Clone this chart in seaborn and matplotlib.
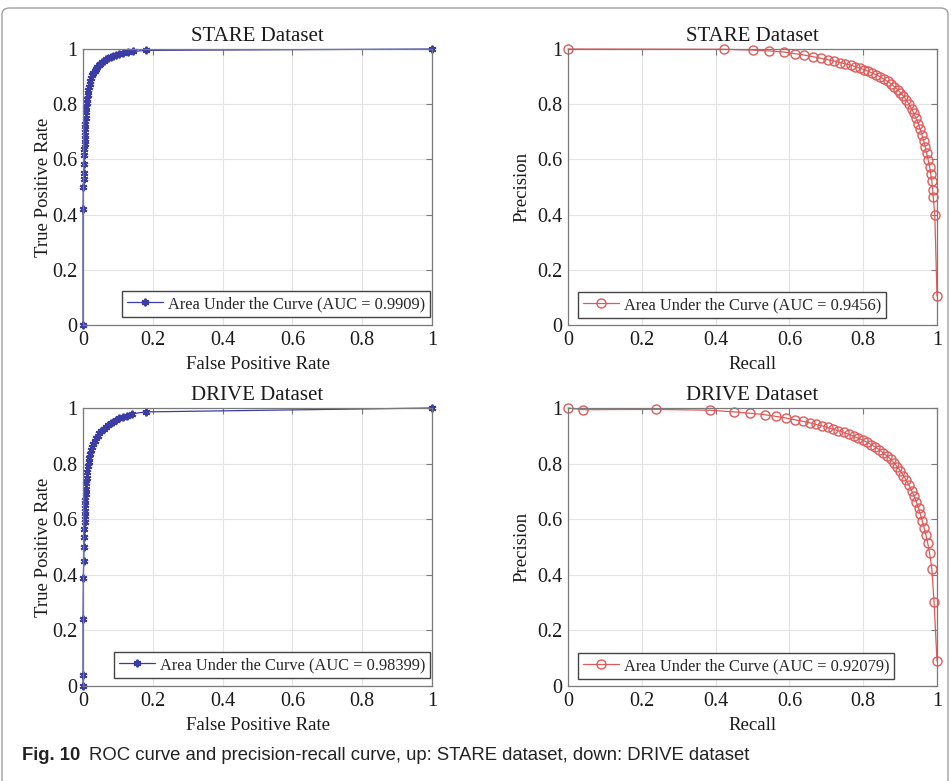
import matplotlib
matplotlib.use("Agg")
import matplotlib.pyplot as plt
import seaborn as sns
from matplotlib.patches import FancyBboxPatch

# values
stare_fpr = [0, 0, 0.001, 0.002, 0.002, 0.003, 0.004, 0.004, 0.005, 0.005, 0.006, 0.007, 0.007,
             0.008, 0.009, 0.010, 0.011, 0.012, 0.014, 0.015, 0.017, 0.019, 0.021, 0.024, 0.027,
             0.030, 0.033, 0.037, 0.041, 0.045, 0.050, 0.055, 0.060, 0.066, 0.072, 0.079, 0.086,
             0.094, 0.103, 0.115, 0.128, 0.143, 0.180, 1.0]
stare_tpr = [0, 0.42, 0.50, 0.53, 0.55, 0.585, 0.615, 0.636, 0.655, 0.673, 0.69, 0.71, 0.73,
             0.75, 0.77, 0.79, 0.805, 0.82, 0.835, 0.85, 0.862, 0.874, 0.885, 0.895, 0.904,
             0.912, 0.92, 0.928, 0.935, 0.941, 0.947, 0.953, 0.958, 0.963, 0.968, 0.972, 0.976,
             0.980, 0.983, 0.986, 0.989, 0.991, 0.995, 1.0]

drive_fpr = [0, 0, 0, 0.001, 0.002, 0.003, 0.003, 0.004, 0.005, 0.005, 0.006, 0.007, 0.007,
             0.008, 0.009, 0.010, 0.011, 0.012, 0.014, 0.016, 0.018, 0.020, 0.023, 0.026, 0.029,
             0.033, 0.037, 0.042, 0.047, 0.053, 0.059, 0.065, 0.072, 0.079, 0.087, 0.095, 0.104,
             0.114, 0.125, 0.140, 0.180, 1.0]
drive_tpr = [0, 0.04, 0.24, 0.39, 0.45, 0.50, 0.535, 0.565, 0.59, 0.61, 0.63, 0.65, 0.67,
             0.69, 0.71, 0.73, 0.75, 0.77, 0.79, 0.805, 0.82, 0.835, 0.848, 0.86, 0.871,
             0.882, 0.892, 0.901, 0.909, 0.917, 0.925, 0.932, 0.939, 0.945, 0.951, 0.957, 0.963,
             0.968, 0.973, 0.979, 0.986, 1.0]

stare_recall = [0, 0.423, 0.50, 0.545, 0.585, 0.615, 0.64, 0.664, 0.686, 0.705, 0.722, 0.738,
                0.752, 0.766, 0.779, 0.791, 0.803, 0.814, 0.825, 0.836, 0.846, 0.856, 0.866,
                0.875, 0.884, 0.893, 0.901, 0.909, 0.917, 0.924, 0.931, 0.937, 0.943, 0.949,
                0.954, 0.959, 0.964, 0.968, 0.972, 0.976, 0.980, 0.983, 0.986, 0.988, 0.990,
                0.994, 1.0]
stare_precision = [1.0, 0.999, 0.996, 0.993, 0.989, 0.983, 0.978, 0.972, 0.966, 0.961, 0.956,
                   0.951, 0.946, 0.941, 0.936, 0.931, 0.925, 0.919, 0.913, 0.906, 0.899, 0.891,
                   0.883, 0.874, 0.864, 0.853, 0.842, 0.829, 0.815, 0.80, 0.784, 0.767, 0.749,
                   0.73, 0.71, 0.689, 0.667, 0.645, 0.622, 0.598, 0.573, 0.548, 0.52, 0.49,
                   0.462, 0.40, 0.105]

drive_recall = [0, 0.041, 0.238, 0.384, 0.45, 0.494, 0.533, 0.563, 0.59, 0.614, 0.637, 0.655,
                0.672, 0.688, 0.704, 0.719, 0.733, 0.747, 0.761, 0.774, 0.787, 0.799, 0.811,
                0.822, 0.833, 0.844, 0.854, 0.864, 0.874, 0.883, 0.892, 0.901, 0.909, 0.917,
                0.924, 0.931, 0.938, 0.944, 0.950, 0.955, 0.960, 0.965, 0.970, 0.975, 0.980,
                0.986, 0.992, 1.0]
drive_precision = [1.0, 0.994, 0.995, 0.992, 0.986, 0.981, 0.976, 0.970, 0.964, 0.958, 0.952,
                   0.947, 0.941, 0.936, 0.930, 0.924, 0.918, 0.912, 0.905, 0.898, 0.891, 0.884,
                   0.876, 0.868, 0.859, 0.850, 0.839, 0.828, 0.816, 0.803, 0.789, 0.773, 0.757,
                   0.740, 0.722, 0.703, 0.683, 0.662, 0.640, 0.617, 0.594, 0.570, 0.543, 0.513,
                   0.477, 0.421, 0.303, 0.09]

stare_roc_auc = "0.9909"
stare_pr_auc = "0.9456"
drive_roc_auc = "0.98399"
drive_pr_auc = "0.92079"

tick_values = [0, 0.2, 0.4, 0.6, 0.8, 1]
tick_labels = ["0", "0.2", "0.4", "0.6", "0.8", "1"]

sns.set_style("white")
plt.rcParams["font.family"] = ["Liberation Serif", "DejaVu Serif"]

blue = "#3c3ca6"
red = "#e05a5a"
frame_grey = "#7a7a7a"
text_col = "#1a1a1a"

fig = plt.figure(figsize=(9.51, 7.81), dpi=100)
W, H = 951, 781


def make_ax(x0, y_top, x1, y_bot):
    return fig.add_axes([x0 / W, (H - y_bot) / H, (x1 - x0) / W, (y_bot - y_top) / H])


ax_tl = make_ax(83, 49, 432, 325)
ax_tr = make_ax(568, 49, 937, 325)
ax_bl = make_ax(83, 408, 432, 686)
ax_br = make_ax(568, 408, 937, 686)


def style_ax(ax, title, xlabel, ylabel, ypad):
    ax.set_xlim(0, 1)
    ax.set_ylim(0, 1)
    ax.set_xticks(tick_values)
    ax.set_yticks(tick_values)
    ax.set_xticklabels(tick_labels)
    ax.set_yticklabels(tick_labels)
    ax.grid(True, color="#e4e4e4", linewidth=0.8)
    ax.set_axisbelow(True)
    for sp in ax.spines.values():
        sp.set_visible(True)
        sp.set_color(frame_grey)
        sp.set_linewidth(0.9)
    ax.tick_params(direction="in", top=True, right=True, length=4, width=0.8,
                   color=frame_grey, labelsize=14.5, labelcolor=text_col, pad=4)
    ax.set_title(title, fontsize=15, pad=6, color=text_col)
    ax.set_xlabel(xlabel, fontsize=13.5, labelpad=5, color=text_col)
    ax.set_ylabel(ylabel, fontsize=13.5, labelpad=ypad, color=text_col)


def roc_plot(ax, fpr, tpr, auc, title):
    sns.lineplot(x=fpr, y=tpr, ax=ax, sort=False, estimator=None, color=blue,
                 linewidth=0.9, marker=(6, 2, 0), markersize=5.5, markeredgecolor=blue,
                 markeredgewidth=1.4, clip_on=False,
                 label=f"Area Under the Curve (AUC = {auc})")
    style_ax(ax, title, "False Positive Rate", "True Positive Rate", 0)
    ax.legend(loc="lower right", bbox_to_anchor=(1 - 2 / 349, 8 / 276), borderaxespad=0,
              fontsize=11.8, frameon=True, fancybox=False, edgecolor="#444444",
              framealpha=1, borderpad=0.3, handlelength=2.2, handletextpad=0.3)


def pr_plot(ax, rec, prec, auc, title):
    sns.lineplot(x=rec, y=prec, ax=ax, sort=False, estimator=None, color=red,
                 linewidth=0.9, marker="o", markersize=6.5, markeredgecolor=red,
                 markerfacecolor="none", markeredgewidth=1.0, clip_on=False,
                 label=f"Area Under the Curve (AUC = {auc})")
    style_ax(ax, title, "Recall", "Precision", 5)
    ax.legend(loc="lower left", bbox_to_anchor=(10 / 369, 7 / 276), borderaxespad=0,
              fontsize=11.8, frameon=True, fancybox=False, edgecolor="#444444",
              framealpha=1, borderpad=0.3, handlelength=2.2, handletextpad=0.3)


roc_plot(ax_tl, stare_fpr, stare_tpr, stare_roc_auc, "STARE Dataset")
pr_plot(ax_tr, stare_recall, stare_precision, stare_pr_auc, "STARE Dataset")
roc_plot(ax_bl, drive_fpr, drive_tpr, drive_roc_auc, "DRIVE Dataset")
pr_plot(ax_br, drive_recall, drive_precision, drive_pr_auc, "DRIVE Dataset")

# outer frame of the figure panel
frame = FancyBboxPatch((2 / W, -0.05), 946 / W, (H - 8) / H + 0.05,
                       boxstyle="round,pad=0,rounding_size=0.008",
                       transform=fig.transFigure, fill=False,
                       edgecolor="#a0a0a0", linewidth=1.0)
fig.patches.append(frame)

cap_font = ["Liberation Sans", "DejaVu Sans"]
fig_lbl = fig.text(22 / W, (H - 755) / H, "Fig. 10", fontsize=13.3, fontweight="bold",
                   family=cap_font, va="center", ha="left", color="#222222")
renderer = fig.canvas.get_renderer()
bb = fig_lbl.get_window_extent(renderer)
fig.text((bb.x1 + 9) / W, (H - 755) / H,
         "ROC curve and precision-recall curve, up: STARE dataset, down: DRIVE dataset",
         fontsize=13.3, family=cap_font, va="center", ha="left", color="#222222")

fig.savefig("out.png", dpi=100)
